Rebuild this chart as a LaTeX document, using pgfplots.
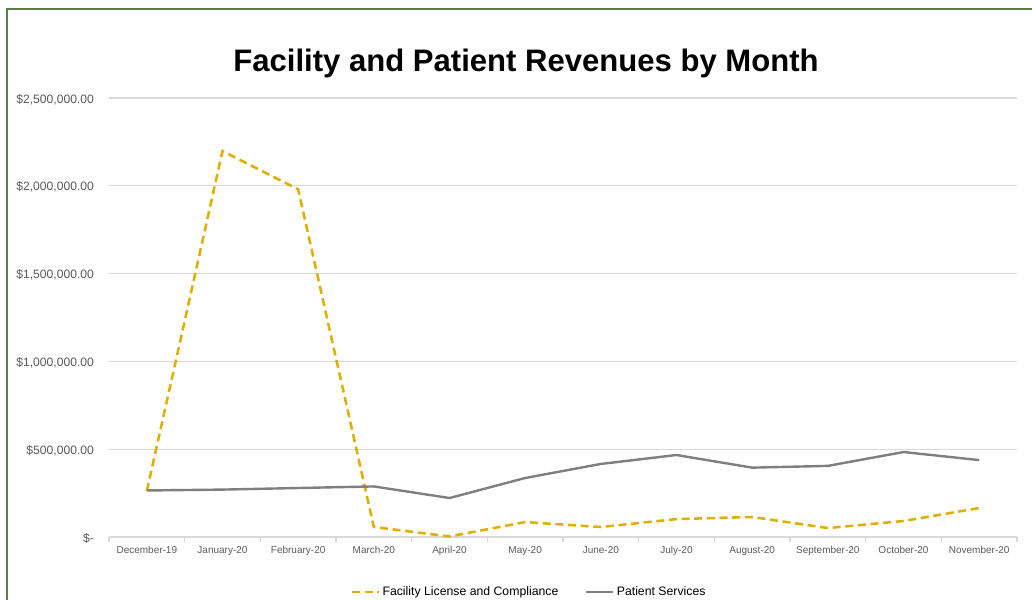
\documentclass[border=0pt]{standalone}
\usepackage{pgfplots}
\pgfplotsset{compat=1.18}
\usepackage{fontspec}
\setmainfont{Liberation Sans}
\definecolor{goldline}{HTML}{E0AE00}
\definecolor{greyline}{HTML}{7F7F7F}
\definecolor{gridgray}{HTML}{D9D9D9}
\definecolor{labelgray}{HTML}{595959}
\definecolor{borderg}{HTML}{5E7B48}
\begin{document}
\begin{tikzpicture}
\useasboundingbox (0pt,0pt) rectangle (774pt,-450pt);
\draw[borderg, line width=2.2pt] (5.25pt,-450pt) -- (5.25pt,-6.75pt) -- (774pt,-6.75pt);
\node[font=\bfseries\fontsize{23.3}{28}\selectfont] at (394.5pt,-47.25pt) {Facility and Patient Revenues by Month};
\begin{axis}[
  at={(81.75pt,-402.75pt)}, anchor=south west,
  width=681pt, height=329.25pt, scale only axis,
  xmin=-0.5, xmax=11.5, ymin=0, ymax=2500000,
  axis x line*=bottom,
  x axis line style={draw=gridgray, line width=0.8pt},
  y axis line style={draw=none},
  xtick={0,...,11},
  xticklabels={December-19,January-20,February-20,March-20,April-20,May-20,June-20,July-20,August-20,September-20,October-20,November-20},
  minor xtick={-0.5,0.5,...,11.5},
  major x tick style={draw=none},
  minor x tick style={draw=gridgray, line width=0.8pt},
  tick align=outside,
  minor tick length=4pt,
  scaled y ticks=false,
  ytick={0,500000,1000000,1500000,2000000,2500000},
  yticklabels={{\$-},{\$500,000.00},{\$1,000,000.00},{\$1,500,000.00},{\$2,000,000.00},{\$2,500,000.00}},
  ytick style={draw=none},
  ymajorgrids,
  major grid style={draw=gridgray, line width=0.8pt},
  yticklabel style={font=\fontsize{9.1}{11}\selectfont, text=labelgray, xshift=-3.5pt, yshift=-1pt},
  xticklabel style={font=\fontsize{7.5}{9}\selectfont, text=labelgray, yshift=0.5pt},
  legend columns=2,
  legend style={at={(0.463,-0.125)}, anchor=center, draw=none, fill=none,
    font=\fontsize{9.2}{11}\selectfont, text=black,
    /tikz/every even column/.append style={column sep=18pt}},
  legend image code/.code={\draw[#1] (0pt,0pt) -- (20pt,0pt);},
  clip=false,
]
\addplot[goldline, line width=1.9pt, dash pattern=on 6pt off 3.5pt] coordinates {
(0,262000) (1,2198000) (2,1980000) (3,57000) (4,3000) (5,85000) (6,57000) (7,102000) (8,114000) (9,51000) (10,91000) (11,165000)};
\addlegendentry{Facility License and Compliance}
\addplot[greyline, line width=1.8pt] coordinates {
(0,265000) (1,270000) (2,279000) (3,288000) (4,222000) (5,336000) (6,416000) (7,467000) (8,395000) (9,405000) (10,484000) (11,438000)};
\addlegendentry{Patient Services}
\end{axis}
\end{tikzpicture}
\end{document}
